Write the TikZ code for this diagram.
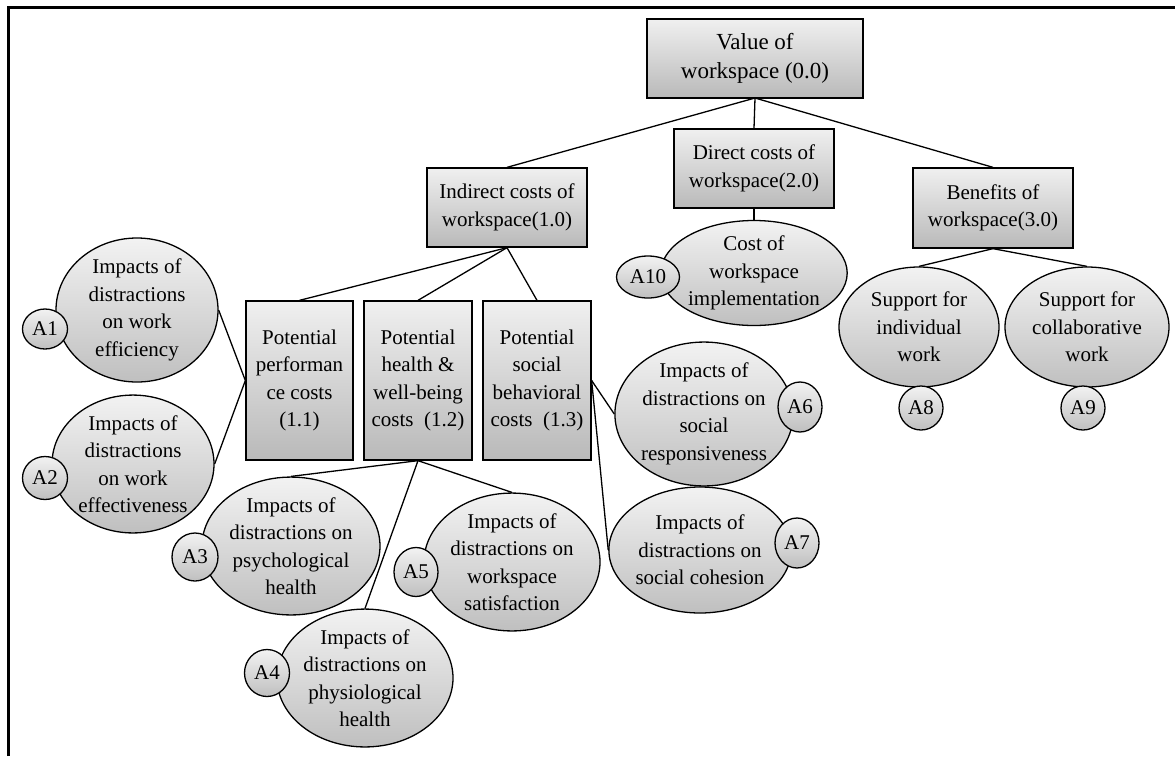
\documentclass[tikz,border=0pt]{standalone}
\usepackage{fontspec}
\setmainfont{Liberation Serif}
\newfontfamily\tnr{Liberation Serif}
\usetikzlibrary{shapes.geometric}
\newcommand\fs{\tnr\fontsize{21}{27.5}\selectfont}
\newcommand\fsb{\tnr\fontsize{23}{29}\selectfont}
\tikzset{
  boxnode/.style={draw, line width=1.3pt, top color=gray!12, bottom color=gray!55,
    inner sep=0pt, align=center, font=\fs},
  ellnode/.style={ellipse, draw, line width=1.3pt, top color=gray!10, bottom color=gray!50,
    inner sep=0pt, align=center, font=\fs},
  tagnode/.style={ellipse, draw, line width=1.3pt, top color=gray!10, bottom color=gray!50,
    inner sep=0pt, align=center, font=\fs},
  conn/.style={line width=1.3pt},
}
\begin{document}
\begin{tikzpicture}[x=1pt,y=-1pt]
\useasboundingbox (0,0) rectangle (1175,756);
\draw[line width=3pt] (8,756) -- (8,7) -- (1175,7);

% boxes
\node[boxnode, font=\fsb, minimum width=216pt, minimum height=79pt] (T) at (755,58.5) {Value of\\workspace (0.0)};
\node[boxnode, minimum width=160pt, minimum height=79pt] (B1) at (507,207.5) {Indirect costs of\\workspace(1.0)};
\node[boxnode, minimum width=160pt, minimum height=79pt] (B2) at (754,168.5) {Direct costs of\\workspace(2.0)};
\node[boxnode, minimum width=160pt, minimum height=80pt] (B3) at (993,208) {Benefits of\\workspace(3.0)};
\node[boxnode, minimum width=107pt, minimum height=159pt] (B11) at (299.5,380.5) {Potential\\performan\\ce costs\\(1.1)};
\node[boxnode, minimum width=108pt, minimum height=159pt] (B12) at (418,380.5) {Potential\\health \&\\well-being\\costs\ \ (1.2)};
\node[boxnode, minimum width=108pt, minimum height=159pt] (B13) at (537,380.5) {Potential\\social\\behavioral\\costs\ \ (1.3)};

% ellipses
\node[ellnode, minimum width=162pt, minimum height=116pt] (E1) at (137,310) {Impacts of\\distractions\\on work\\efficiency};
\node[ellnode, minimum width=162pt, minimum height=108pt] (E2) at (133,464) {Impacts of\\distractions\\on work\\effectiveness};
\node[ellnode, minimum width=178pt, minimum height=128pt] (E3) at (291,546) {Impacts of\\distractions on\\psychological\\health};
\node[ellnode, minimum width=176pt, minimum height=130pt] (E4) at (365,678) {Impacts of\\distractions on\\physiological\\health};
\node[ellnode, minimum width=176pt, minimum height=128pt] (E5) at (512,562) {Impacts of\\distractions on\\workspace\\satisfaction};
\node[ellnode, minimum width=174pt, minimum height=125pt] (E6) at (704,414) {Impacts of\\distractions on\\social\\responsiveness};
\node[ellnode, minimum width=174pt, minimum height=126pt] (E7) at (700,550) {Impacts of\\distractions on\\social cohesion};
\node[ellnode, minimum width=160pt, minimum height=120pt] (E8) at (919,327) {Support for\\individual\\work};
\node[ellnode, minimum width=164pt, minimum height=120pt] (E9) at (1087,327) {Support for\\collaborative\\work};
\node[ellnode, minimum width=182pt, minimum height=100pt] (E10) at (754,273) {Cost of\\workspace\\implementation};

% tags
\node[tagnode, minimum width=45pt, minimum height=40pt] (A1) at (45,329) {A1};
\node[tagnode, minimum width=45pt, minimum height=43pt] (A2) at (45,478) {A2};
\node[tagnode, minimum width=46pt, minimum height=48pt] (A3) at (195,557) {A3};
\node[tagnode, minimum width=45pt, minimum height=47pt] (A4) at (267,673) {A4};
\node[tagnode, minimum width=44pt, minimum height=49pt] (A5) at (416,572) {A5};
\node[tagnode, minimum width=44pt, minimum height=50pt] (A6) at (800,407) {A6};
\node[tagnode, minimum width=44pt, minimum height=50pt] (A7) at (797,543) {A7};
\node[tagnode, minimum width=44pt, minimum height=44pt] (A8) at (921,408) {A8};
\node[tagnode, minimum width=44pt, minimum height=44pt] (A9) at (1083,408) {A9};
\node[tagnode, minimum width=63pt, minimum height=42pt] (A10) at (648,277) {A10};

% connectors
\coordinate (Tb) at (755,98);
\draw[conn] (Tb) -- (B1.north);
\draw[conn] (Tb) -- (B2.north);
\draw[conn] (Tb) -- (B3.north);
\draw[conn] (B2.south) -- (E10.north);
\draw[conn] (B1.south) -- (B11.north);
\draw[conn] (B1.south) -- (B12.north);
\draw[conn] (B1.south) -- (B13.north);
\draw[conn] (B3.south) -- (E8.north);
\draw[conn] (B3.south) -- (E9.north);
\draw[conn] (B11.west) -- (E1.east);
\draw[conn] (B11.west) -- (E2.east);
\draw[conn] (B12.south) -- (E3.north);
\draw[conn] (B12.south) -- (E4.north);
\draw[conn] (B12.south) -- (E5.north);
\draw[conn] (B13.east) -- (E6.west);
\draw[conn] (B13.east) -- (E7.west);
\end{tikzpicture}
\end{document}
